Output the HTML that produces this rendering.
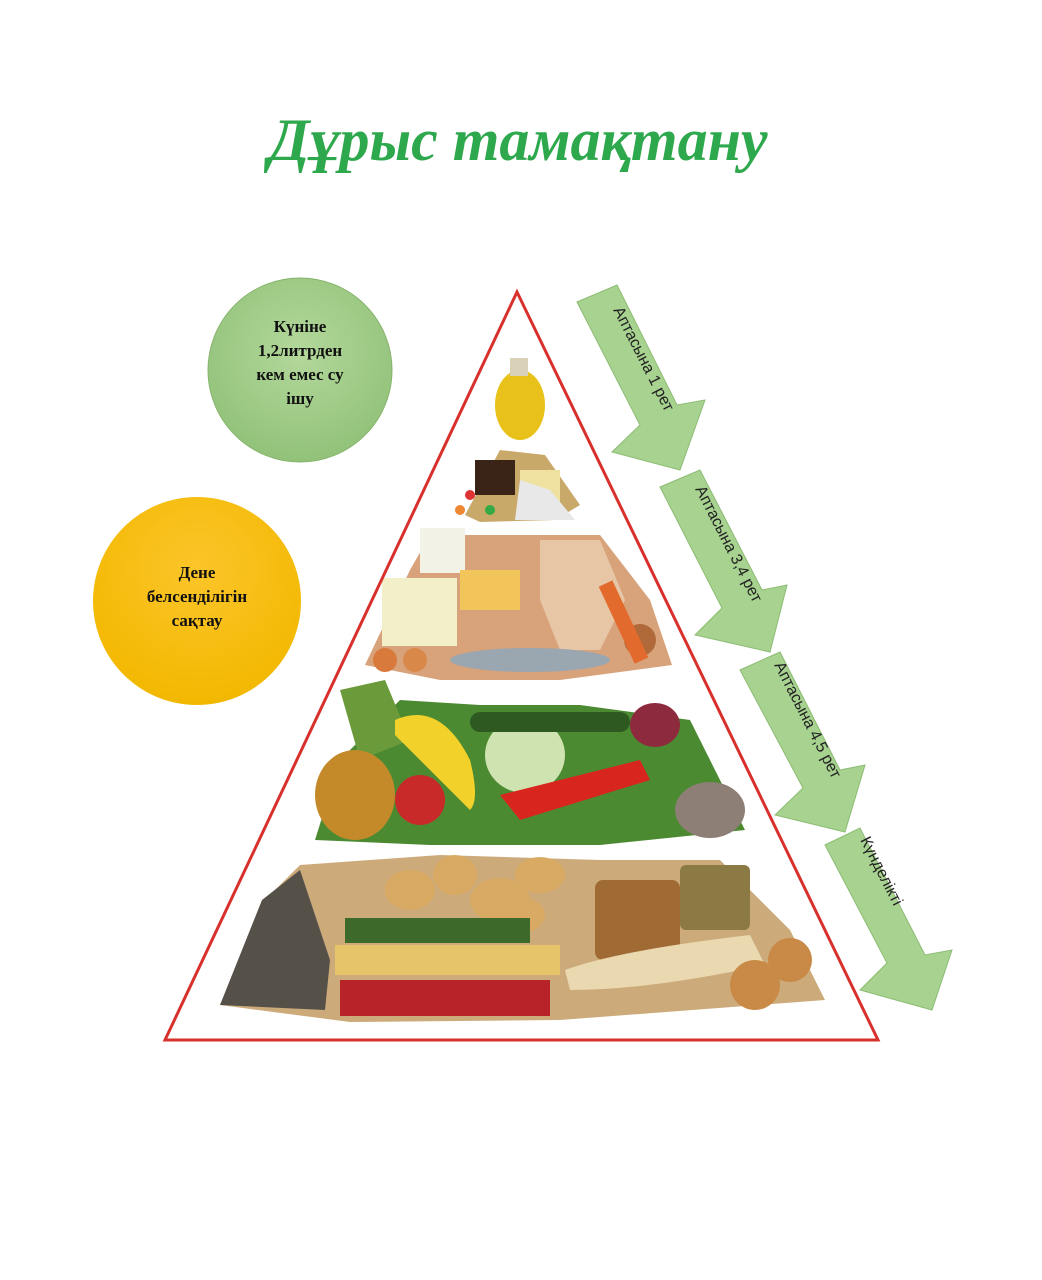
<!DOCTYPE html>
<html><head><meta charset="utf-8"><style>
body{margin:0;background:#fff;}
svg{display:block}
</style></head><body>
<svg width="1042" height="1280" viewBox="0 0 1042 1280" xmlns="http://www.w3.org/2000/svg">
<defs>
<radialGradient id="gc" cx="50%" cy="40%" r="60%"><stop offset="0" stop-color="#b3d89b"/><stop offset="1" stop-color="#92c27a"/></radialGradient>
<radialGradient id="yc" cx="50%" cy="35%" r="65%"><stop offset="0" stop-color="#fcc52a"/><stop offset="1" stop-color="#f2b800"/></radialGradient>
</defs>
<rect width="1042" height="1280" fill="#fff"/>
<text x="518" y="160" text-anchor="middle" font-family="Liberation Serif, serif" font-style="italic" font-weight="bold" font-size="60" fill="#2ea84c">Дұрыс тамақтану</text>

<circle cx="300" cy="370" r="92" fill="url(#gc)" stroke="#86b46c" stroke-width="1"/>
<g font-family="Liberation Serif, serif" font-weight="bold" font-size="17" fill="#111" text-anchor="middle">
<text x="300" y="332">Күніне</text>
<text x="300" y="356">1,2литрден</text>
<text x="300" y="380">кем емес су</text>
<text x="300" y="404">ішу</text>
</g>
<circle cx="197" cy="601" r="104" fill="url(#yc)"/>
<g font-family="Liberation Serif, serif" font-weight="bold" font-size="17" fill="#111" text-anchor="middle">
<text x="197" y="578">Дене</text>
<text x="197" y="602">белсенділігін</text>
<text x="197" y="626">сақтау</text>
</g>

<ellipse cx="520" cy="405" rx="25" ry="35" fill="#e8c21a"/>
<rect x="510" y="358" width="18" height="18" fill="#d9d2b8"/>
<path d="M465 515 L500 450 L545 455 L580 505 L555 520 L480 522 Z" fill="#c9a96a"/>
<rect x="475" y="460" width="40" height="35" fill="#3a2418"/>
<rect x="520" y="470" width="40" height="35" fill="#efe2a0"/>
<path d="M515 520 L520 480 L550 490 L575 520 Z" fill="#e8e8e8"/>
<circle cx="470" cy="495" r="5" fill="#d33"/><circle cx="490" cy="510" r="5" fill="#3a4"/><circle cx="460" cy="510" r="5" fill="#e83"/>
<path d="M365 665 L410 570 L430 535 L600 535 L650 600 L672 665 L560 680 L440 680 Z" fill="#d8a27a"/>
<rect x="420" y="528" width="45" height="45" fill="#f2f2e6"/>
<rect x="382" y="578" width="75" height="68" fill="#f3efc8"/>
<path d="M540 540 L600 540 L625 600 L600 650 L560 650 L540 600 Z" fill="#e7c6a6"/>
<rect x="460" y="570" width="60" height="40" fill="#f1c55a"/>
<ellipse cx="530" cy="660" rx="80" ry="12" fill="#9aa6b0"/>
<circle cx="385" cy="660" r="12" fill="#d87a3c"/><circle cx="415" cy="660" r="12" fill="#d8894a"/><circle cx="640" cy="640" r="16" fill="#b06a3a"/>
<rect x="615" y="580" width="15" height="85" fill="#e26a2c" transform="rotate(-25 622 620)"/>
<path d="M315 840 L340 760 L400 700 L480 705 L580 705 L690 720 L745 830 L600 845 L430 845 Z" fill="#4c8a32"/>
<path d="M340 690 L385 680 L410 740 L360 760 Z" fill="#6a9a3a"/>
<ellipse cx="355" cy="795" rx="40" ry="45" fill="#c48a2a"/>
<path d="M395 720 Q440 700 470 760 Q480 800 470 810 Q420 760 395 735 Z" fill="#f2d22a"/>
<circle cx="420" cy="800" r="25" fill="#c82a2a"/>
<ellipse cx="525" cy="755" rx="40" ry="38" fill="#cfe3b0"/>
<path d="M500 795 L640 760 L650 780 L520 820 Z" fill="#d8261e"/>
<ellipse cx="655" cy="725" rx="25" ry="22" fill="#8e2a3e"/>
<ellipse cx="710" cy="810" rx="35" ry="28" fill="#8d7e76"/>
<rect x="470" y="712" width="160" height="20" rx="10" fill="#2e5a22"/>
<path d="M220 1005 L265 900 L300 865 L440 855 L600 860 L720 860 L790 930 L825 1000 L560 1020 L350 1022 Z" fill="#cdaa7a"/>
<path d="M220 1005 L262 900 L300 870 L330 960 L325 1010 Z" fill="#555048"/>
<g fill="#d9aa64"><ellipse cx="410" cy="890" rx="25" ry="20"/><ellipse cx="455" cy="875" rx="22" ry="20"/><ellipse cx="500" cy="900" rx="30" ry="22"/><ellipse cx="540" cy="875" rx="25" ry="18"/><ellipse cx="520" cy="915" rx="25" ry="18"/></g>
<rect x="345" y="918" width="185" height="25" fill="#3d6a2a"/>
<rect x="335" y="945" width="225" height="30" fill="#e6c46a"/>
<rect x="340" y="980" width="210" height="36" fill="#b8232a"/>
<rect x="595" y="880" width="85" height="80" rx="8" fill="#a06a34"/>
<rect x="680" y="865" width="70" height="65" rx="6" fill="#8c7a44"/>
<path d="M565 970 Q620 950 750 935 L765 965 Q650 990 570 990 Z" fill="#e9d8b0"/>
<circle cx="755" cy="985" r="25" fill="#c88a46"/><circle cx="790" cy="960" r="22" fill="#c88a46"/>

<path d="M517 292 L878 1040 L165 1040 Z" fill="none" stroke="#d8302c" stroke-width="3"/>

<g fill="#a7d28f" stroke="#8cbc73" stroke-width="1">
<path d="M577 302 L617 285 L677 405 L705 400 L680 470 L612 452 L640 425 Z"/>
<path d="M660 487 L700 470 L762 590 L787 585 L770 652 L695 635 L722 608 Z"/>
<path d="M740 670 L780 652 L840 770 L865 765 L845 832 L775 815 L803 788 Z"/>
<path d="M825 845 L860 828 L925 955 L952 950 L932 1010 L860 990 L887 963 Z"/>
</g>
<g font-family="Liberation Sans, sans-serif" font-size="16" fill="#222">
<text transform="translate(613 310) rotate(63)">Аптасына 1 рет</text>
<text transform="translate(695 489) rotate(63)">Аптасына 3,4 рет</text>
<text transform="translate(774 665) rotate(63)">Аптасына 4,5 рет</text>
<text transform="translate(860 840) rotate(63)">Күнделікті</text>
</g>
</svg>
</body></html>
